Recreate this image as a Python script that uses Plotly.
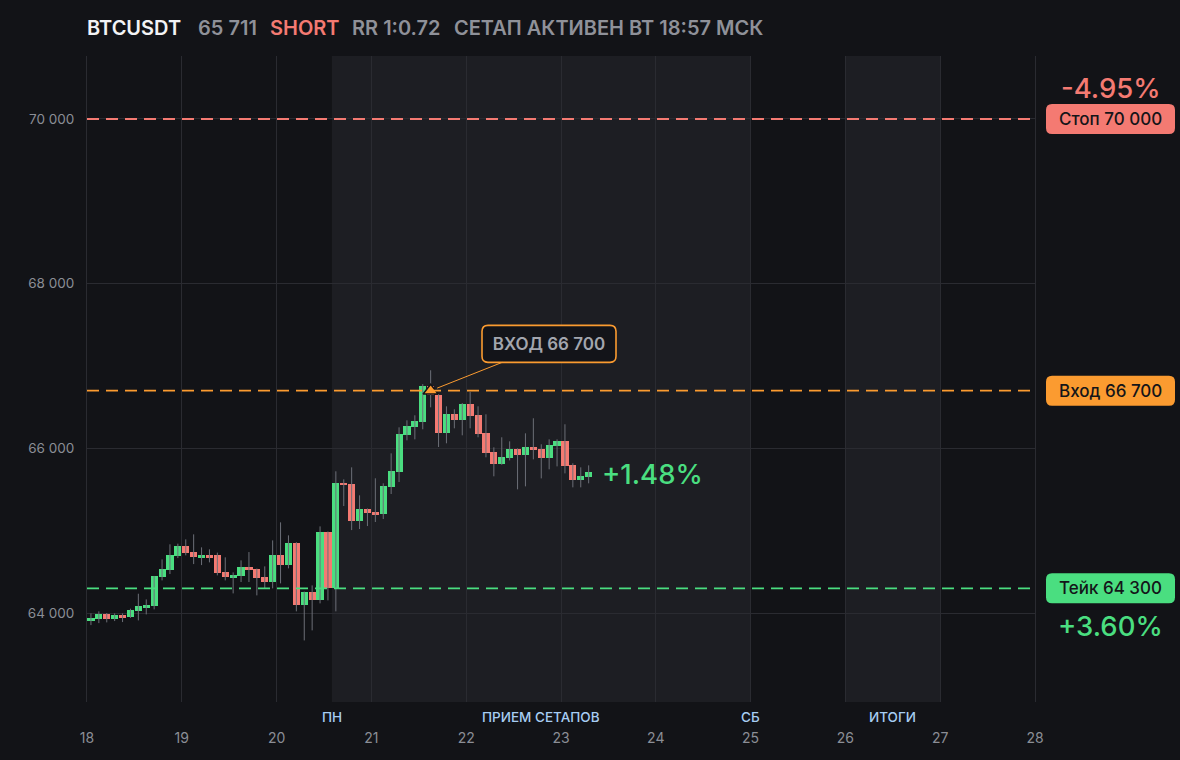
import plotly.graph_objects as go

# ---------------- data ----------------
day_start = 18
candle_hours = 2
opens = [63902, 63926, 63992, 63926, 63971, 63950, 64023, 64072, 64080, 64436,
         64521, 64691, 64809, 64736, 64679, 64700, 64700, 64493, 64433, 64445,
         64554, 64530, 64433, 64372, 64700, 64578, 64846, 64092, 64250, 64153,
         64979, 64303, 65575, 65563, 65117, 65259, 65226, 65202, 65530, 65712,
         66158, 66255, 66316, 66753, 66644, 66186, 66413, 66340, 66535, 66401,
         66182, 65951, 65806, 65879, 65988, 65915, 66012, 65988, 65879, 66024,
         66085, 65793, 65611, 65648]
highs = [63995, 64020, 64000, 63995, 63995, 64052, 64234, 64165, 64450, 64651,
         64834, 64842, 64894, 64955, 64797, 64773, 64733, 64676, 64493, 64639,
         64740, 64540, 64566, 64882, 65101, 64943, 64860, 64260, 64335, 65052,
         64990, 65721, 65623, 65769, 65429, 65270, 65636, 65575, 65939, 66255,
         66340, 66401, 66780, 66948, 66660, 66510, 66474, 66550, 66684, 66510,
         66413, 66012, 66134, 66085, 66000, 66182, 66365, 66049, 66109, 66109,
         66292, 65818, 65769, 65793]
lows = [63853, 63877, 63886, 63902, 63890, 63940, 63910, 63983, 64044, 64396,
        64473, 64667, 64700, 64594, 64582, 64615, 64457, 64396, 64238, 64376,
        64376, 64214, 64295, 64299, 64360, 64542, 64020, 63667, 63789, 64117,
        64153, 64020, 65299, 65007, 65020, 65056, 65105, 65141, 65445, 65591,
        66097, 66109, 66231, 66498, 66016, 66061, 66243, 66158, 66243, 66134,
        65891, 65660, 65800, 65854, 65502, 65538, 65866, 65635, 65745, 65781,
        65696, 65526, 65526, 65575]
closes = [63934, 63992, 63926, 63971, 63950, 64032, 64080, 64092, 64445, 64530,
          64700, 64809, 64724, 64675, 64700, 64679, 64485, 64436, 64457, 64554,
          64521, 64420, 64372, 64700, 64578, 64846, 64092, 64250, 64153, 64979,
          64299, 65575, 65550, 65117, 65259, 65214, 65202, 65538, 65721, 66170,
          66267, 66328, 66753, 66644, 66186, 66413, 66340, 66535, 66389, 66174,
          65939, 65806, 65891, 65988, 65915, 66012, 65976, 65879, 66036, 66085,
          65781, 65611, 65660, 65711]

symbol = "BTCUSDT"
last_price_text = "65 711"
side = "SHORT"
rr_text = "RR 1:0.72"
status_text = "СЕТАП АКТИВЕН ВТ 18:57 МСК"

stop_level = 70000
entry_level = 66700
take_level = 64300
entry_index = 43

y_ticks = [64000, 66000, 68000, 70000]
y_tick_labels = ["64 000", "66 000", "68 000", "70 000"]
x_days = list(range(18, 29))
x_day_labels = [str(d) for d in x_days]

window_start = 20 + 14 / 24   # ПН 14:00
window_end = 25
results_start = 26
results_end = 27
period_labels = ["ПН", "ПРИЕМ СЕТАПОВ", "СБ", "ИТОГИ"]
period_pos = [window_start, (window_start + window_end) / 2, window_end, (results_start + results_end) / 2]

# ---------------- styles ----------------
BG = "#121317"
SHADE = "#1d1e23"
GRID = "#2a2b31"
GREEN = "#4ade80"
RED = "#f47a72"
ORANGE = "#fb9b30"
WICK = "#6c6f77"
TICK = "#8b8e96"
LABEL_BLUE = "#a7cdf3"
FONT = "Inter"

Y0, Y1 = 62919, 70765
PLOT_W, PLOT_H = 948, 646
px_per_day = PLOT_W / 10
px_per_price = PLOT_H / (Y1 - Y0)

n = len(opens)
xs = [day_start + (i + 0.5) * candle_hours / 24 for i in range(n)]

min_body = 1.6 / px_per_price
bases = [min(o, c) for o, c in zip(opens, closes)]
heights = [max(abs(c - o), min_body) for o, c in zip(opens, closes)]
colors = [GREEN if c >= o else RED for o, c in zip(opens, closes)]

wx, wy = [], []
for x, h, l in zip(xs, highs, lows):
    wx += [x, x, None]
    wy += [l, h, None]

fig = go.Figure()
fig.add_trace(go.Scatter(x=wx, y=wy, mode="lines", line=dict(color=WICK, width=1),
                         hoverinfo="skip", showlegend=False))
fig.add_trace(go.Bar(x=xs, y=heights, base=bases, width=candle_hours / 24 * 0.9,
                     marker=dict(color=colors, line=dict(width=0)),
                     hoverinfo="skip", showlegend=False))
fig.add_trace(go.Scatter(x=[xs[entry_index]], y=[entry_level], mode="markers",
                         marker=dict(symbol="triangle-up", size=13, color=ORANGE,
                                     line=dict(color=BG, width=1.5)),
                         hoverinfo="skip", showlegend=False))

shapes = []
for a, b in [(window_start, window_end), (results_start, results_end)]:
    shapes.append(dict(type="rect", xref="x", yref="paper", x0=a, x1=b, y0=0, y1=1,
                       fillcolor=SHADE, line=dict(width=0), layer="below"))

for lvl, col in [(stop_level, RED), (entry_level, ORANGE), (take_level, GREEN)]:
    shapes.append(dict(type="line", xref="paper", yref="y", x0=0, x1=1, y0=lvl, y1=lvl,
                       line=dict(color=col, width=1.8, dash="12px,7px"), layer="above"))


def rr_path(x0, x1, y0, y1, rx, ry):
    return (f"M {x0 + rx},{y0} L {x1 - rx},{y0} Q {x1},{y0} {x1},{y0 + ry} "
            f"L {x1},{y1 - ry} Q {x1},{y1} {x1 - rx},{y1} L {x0 + rx},{y1} "
            f"Q {x0},{y1} {x0},{y1 - ry} L {x0},{y0 + ry} Q {x0},{y0} {x0 + rx},{y0} Z")


annotations = []
# right side labels
lab_x0 = (1046 - 87) / PLOT_W
lab_x1 = (1175 - 87) / PLOT_W
lab_xc = (lab_x0 + lab_x1) / 2
half_h = 15 / px_per_price
rx_p = 6 / PLOT_W
ry_p = 6 / px_per_price
for lvl, col, name in [(stop_level, RED, "Стоп"), (entry_level, ORANGE, "Вход"), (take_level, GREEN, "Тейк")]:
    shapes.append(dict(type="path", xref="paper", yref="y",
                       path=rr_path(lab_x0, lab_x1, lvl - half_h, lvl + half_h, rx_p, ry_p),
                       fillcolor=col, line=dict(width=0), layer="above"))
    annotations.append(dict(xref="paper", yref="y", x=lab_xc, y=lvl,
                            text=f"{name} {lvl:,}".replace(",", " "), showarrow=False,
                            font=dict(family=FONT, size=17, color="#141519", weight=500),
                            xanchor="center", yanchor="middle"))

stop_pct = (stop_level - entry_level) / entry_level * 100
take_pct = (entry_level - take_level) / entry_level * 100
cur_pct = (entry_level - closes[-1]) / entry_level * 100
annotations.append(dict(xref="paper", yref="y", x=lab_xc, y=stop_level, yshift=31,
                        xanchor="center", yanchor="middle",
                        text=f"-{stop_pct:.2f}%", showarrow=False,
                        font=dict(family=FONT, size=27.5, color=RED, weight=500)))
annotations.append(dict(xref="paper", yref="y", x=lab_xc, y=take_level, yshift=-38,
                        xanchor="center", yanchor="middle",
                        text=f"+{take_pct:.2f}%", showarrow=False,
                        font=dict(family=FONT, size=27.5, color=GREEN, weight=500)))
annotations.append(dict(xref="x", yref="y", x=xs[-1], y=closes[-1], xshift=11, yshift=-2,
                        xanchor="left", yanchor="middle",
                        text=f"+{cur_pct:.2f}%", showarrow=False,
                        font=dict(family=FONT, size=27.5, color=GREEN, weight=500)))

# entry callout
box_cx = 18 + (549 - 87) / px_per_day
box_cy = 66000 + (448 - 343.5) / px_per_price
bw, bh = 134, 37
shapes.append(dict(type="path", xref="x", yref="y",
                   path=rr_path(box_cx - bw / 2 / px_per_day, box_cx + bw / 2 / px_per_day,
                                box_cy - bh / 2 / px_per_price, box_cy + bh / 2 / px_per_price,
                                6 / px_per_day, 6 / px_per_price),
                   fillcolor="#131419", line=dict(color=ORANGE, width=1.6), layer="above"))
annotations.append(dict(xref="x", yref="y", x=xs[entry_index], y=entry_level,
                        axref="x", ayref="y", ax=box_cx, ay=box_cy,
                        text=f"ВХОД {entry_level:,}".replace(",", " "),
                        showarrow=True, arrowhead=0, arrowwidth=1, arrowcolor=ORANGE, standoff=7,
                        width=bw - 4, height=bh - 4, borderpad=2, borderwidth=0,
                        bgcolor="rgba(0,0,0,0)",
                        font=dict(family=FONT, size=17, color="#a3a6ae", weight=600)))

# header
header_parts = [(symbol, "#f2f3f5", 87), (last_price_text, "#8f9199", 198), (side, RED, 270),
                (rr_text, "#8f9199", 352), (status_text, "#8f9199", 454)]
for txt, col, px in header_parts:
    annotations.append(dict(xref="paper", yref="paper", x=(px - 87) / PLOT_W, xshift=-2,
                            y=1 + (56 - 28) / PLOT_H, xanchor="left", yanchor="middle",
                            text=txt, showarrow=False,
                            font=dict(family=FONT, size=20, color=col, weight=600)))

# period labels under the plot
for txt, pos in zip(period_labels, period_pos):
    annotations.append(dict(xref="x", yref="paper", x=pos, y=-(717 - 702) / PLOT_H,
                            xanchor="center", yanchor="middle", text=txt, showarrow=False,
                            font=dict(family=FONT, size=13.5, color=LABEL_BLUE, weight=500)))

fig.update_layout(
    width=1180, height=760,
    margin=dict(l=87, r=145, t=56, b=58),
    paper_bgcolor=BG, plot_bgcolor=BG,
    shapes=shapes, annotations=annotations,
    bargap=0, showlegend=False,
    font=dict(family=FONT, color=TICK),
    xaxis=dict(range=[18, 28], tickvals=x_days, ticktext=x_day_labels,
               showgrid=True, gridcolor=GRID, gridwidth=1, zeroline=False, showline=False,
               ticks="outside", ticklen=23, tickcolor="rgba(0,0,0,0)",
               tickfont=dict(family=FONT, size=14, color=TICK), fixedrange=True),
    yaxis=dict(range=[Y0, Y1], tickvals=y_ticks, ticktext=y_tick_labels,
               showgrid=True, gridcolor=GRID, gridwidth=1, zeroline=False,
               showline=True, mirror=True, linecolor=GRID, linewidth=1,
               ticks="outside", ticklen=9, tickcolor="rgba(0,0,0,0)",
               tickfont=dict(family=FONT, size=13.5, color=TICK), fixedrange=True),
)

fig.write_html("out.html", config={"displayModeBar": False},
               post_script="document.body.style.margin='0';document.body.style.background='#121317';")
